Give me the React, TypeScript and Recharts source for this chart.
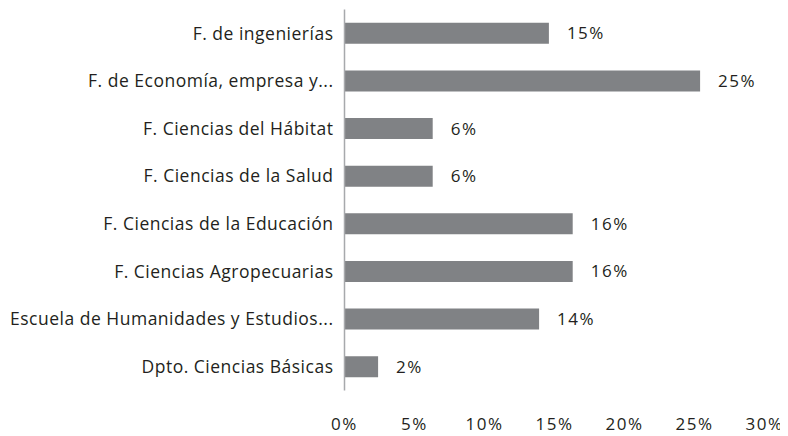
import React from 'react';
import { BarChart, Bar, XAxis, YAxis, LabelList } from 'recharts';

// facultades / departamentos
const categories = [
  'F. de ingenierías',
  'F. de Economía, empresa y...',
  'F. Ciencias del Hábitat',
  'F. Ciencias de la Salud',
  'F. Ciencias de la Educación',
  'F. Ciencias Agropecuarias',
  'Escuela de Humanidades y Estudios...',
  'Dpto. Ciencias Básicas',
];

const shares = [14.6, 25.4, 6.3, 6.3, 16.3, 16.3, 13.9, 2.4];

const xTicks = [0, 5, 10, 15, 20, 25, 30];

const data = categories.map((name, i) => ({ name, value: shares[i] }));

const FONT = '"Open Sans", Lato, sans-serif';
const TEXT = '#231f20';

const App: React.FC = () => {
  return (
    <BarChart
      width={780}
      height={428}
      data={data}
      layout="vertical"
      margin={{ top: 1.5, right: 23.5, left: 0, bottom: 0 }}
      barCategoryGap="28%"
      style={{ fontFamily: FONT }}
    >
      <XAxis
        type="number"
        domain={[0, 30]}
        ticks={xTicks}
        tickFormatter={(v: number) => `${v}%`}
        axisLine={false}
        tickLine={false}
        tickSize={0}
        tickMargin={27}
        height={45.5}
        tick={{ fontSize: 17, fill: TEXT, letterSpacing: 1.5 }}
      />
      <YAxis
        type="category"
        dataKey="name"
        width={336.5}
        tickLine={false}
        tickSize={0}
        tickMargin={11}
        axisLine={{ stroke: '#a7a9ac', strokeWidth: 1.5 }}
        tick={{ fontSize: 17.5, fill: TEXT, letterSpacing: 0.5 }}
        interval={0}
      />
      <Bar dataKey="value" fill="#808285" isAnimationActive={false}>
        <LabelList
          dataKey="value"
          position="right"
          offset={18}
          formatter={(v: number) => `${Math.round(v)}%`}
          style={{ fontSize: 17, fill: TEXT, letterSpacing: 1.5 }}
        />
      </Bar>
    </BarChart>
  );
};

export default App;
